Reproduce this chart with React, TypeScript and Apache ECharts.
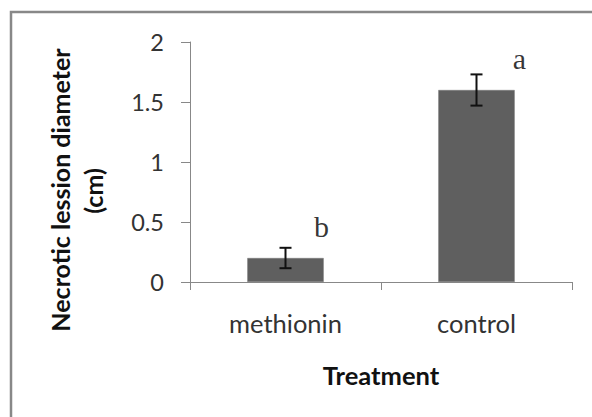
import React, { useEffect, useRef } from "react";
import * as echarts from "echarts";

const categories = ["methionin", "control"];
const means = [0.2, 1.6];
const errors = [0.085, 0.13];
const letters = ["b", "a"];
const letterValues = [0.46, 1.86];
const yTicks = { min: 0, max: 2, interval: 0.5 };

const SANS = "Lato, 'Open Sans', sans-serif";

export default function App() {
  const ref = useRef<HTMLDivElement>(null);
  useEffect(() => {
    const chart = echarts.init(ref.current!, null, { renderer: "svg" });
    chart.setOption({
      animation: false,
      backgroundColor: "#fff",
      grid: { left: 190, right: 20, top: 42, bottom: 135 },
      xAxis: {
        type: "category",
        data: categories,
        axisLine: { lineStyle: { color: "#888", width: 1 } },
        axisTick: { show: true, length: 8, lineStyle: { color: "#888" } },
        axisLabel: { color: "#333", fontFamily: SANS, fontSize: 25.5, margin: 28 },
        name: "Treatment",
        nameLocation: "middle",
        nameGap: 80,
        nameTextStyle: { color: "#111", fontFamily: SANS, fontSize: 25.5, fontWeight: "bold" },
      },
      yAxis: {
        type: "value",
        min: yTicks.min,
        max: yTicks.max,
        interval: yTicks.interval,
        splitLine: { show: false },
        axisLine: { show: true, lineStyle: { color: "#888", width: 1 } },
        axisTick: { show: true, length: 9, lineStyle: { color: "#888" } },
        axisLabel: { color: "#333", fontFamily: SANS, fontSize: 23.5, margin: 26 },
      },
      graphic: [
        {
          type: "rect",
          shape: { x: 11, y: 12, width: 640, height: 460 },
          style: { fill: "none", stroke: "#888", lineWidth: 2.5 },
          silent: true,
        },
        {
          type: "text",
          x: 60,
          y: 190,
          rotation: Math.PI / 2,
          style: {
            text: "Necrotic lession diameter",
            fontFamily: SANS,
            fontSize: 25,
            fontWeight: "bold",
            fill: "#111",
            align: "center",
            verticalAlign: "middle",
          },
        },
        {
          type: "text",
          x: 93,
          y: 191,
          rotation: Math.PI / 2,
          style: {
            text: "(cm)",
            fontFamily: SANS,
            fontSize: 25,
            fontWeight: "bold",
            fill: "#111",
            align: "center",
            verticalAlign: "middle",
          },
        },
      ],
      series: [
        {
          type: "bar",
          data: means,
          barWidth: "40%",
          itemStyle: { color: "#5f5f5f", borderColor: "#7a7a7a", borderWidth: 0.5 },
        },
        {
          type: "custom",
          data: means.map((m, i) => [i, m, errors[i]]),
          renderItem: (params: any, api: any) => {
            const i = api.value(0);
            const m = api.value(1);
            const e = api.value(2);
            const top = api.coord([i, m + e]);
            const bot = api.coord([i, m - e]);
            const hw = 6;
            const st = { stroke: "#111", lineWidth: 2 };
            return {
              type: "group",
              children: [
                { type: "line", shape: { x1: top[0], y1: top[1], x2: bot[0], y2: bot[1] }, style: st },
                { type: "line", shape: { x1: top[0] - hw, y1: top[1], x2: top[0] + hw, y2: top[1] }, style: st },
                { type: "line", shape: { x1: bot[0] - hw, y1: bot[1], x2: bot[0] + hw, y2: bot[1] }, style: st },
              ],
            };
          },
          z: 5,
        },
        {
          type: "scatter",
          symbolSize: 0,
          data: letters.map((l, i) => ({
            value: [i, letterValues[i]],
            label: { offset: [i === 0 ? 36 : 43, 0] },
          })),
          label: {
            show: true,
            position: "inside",
            formatter: (p: any) => letters[p.dataIndex],
            fontFamily: "'Liberation Serif', 'Times New Roman', serif",
            fontSize: 30,
            color: "#000",
          },
          z: 6,
        },
      ],
    });
    return () => chart.dispose();
  }, []);
  return (
    <div
      ref={ref}
      style={{ position: "fixed", left: 0, top: 0, width: 592, height: 417, background: "#fff" }}
    />
  );
}
